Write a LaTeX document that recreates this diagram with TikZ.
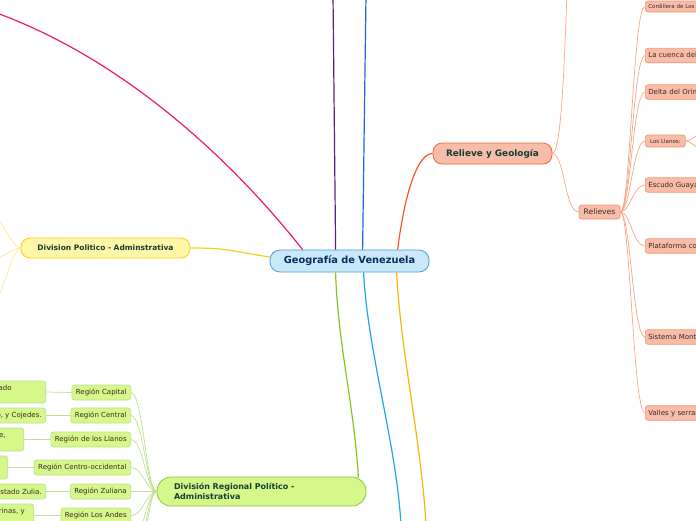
\documentclass[tikz,border=0pt]{standalone}
\usepackage{fontspec}
\setmainfont{DejaVu Sans}
\usepackage{xcolor}
\usetikzlibrary{positioning,calc}

\definecolor{geofill}{HTML}{C9E9FB}
\definecolor{geoline}{HTML}{4A9AD6}
\definecolor{geotext}{HTML}{0B2B5C}
\definecolor{titletext}{HTML}{123F33}
\definecolor{smalltext}{HTML}{3A2A22}
\definecolor{relfill}{HTML}{F9BCA8}
\definecolor{relline}{HTML}{EE6A3C}
\definecolor{relsub}{HTML}{F7A68A}
\definecolor{polfill}{HTML}{FFF6A8}
\definecolor{polline}{HTML}{EFD21E}
\definecolor{polsub}{HTML}{FBE98E}
\definecolor{regfill}{HTML}{D6F78A}
\definecolor{regline}{HTML}{8FC43A}
\definecolor{regsub}{HTML}{BFE08E}
\definecolor{pinkbr}{HTML}{EE1870}
\definecolor{purplebr}{HTML}{5A1E80}
\definecolor{bluebr}{HTML}{1A66D9}
\definecolor{redbr}{HTML}{F25A22}
\definecolor{yellowbr}{HTML}{F0D21A}
\definecolor{greenbr}{HTML}{8CC21E}
\definecolor{skybr}{HTML}{1DA5F0}
\definecolor{orangebr}{HTML}{FFB300}

\begin{document}
\begin{tikzpicture}[x=1pt,y=-1pt,
  topic/.style={rounded corners=9pt,line width=0.8pt,inner sep=0pt,
    font=\bfseries\fontsize{7.5}{9.5}\selectfont,text=titletext},
  relbox/.style={draw=relline!70,fill=relfill,rounded corners=2.5pt,line width=0.7pt,
    inner xsep=3pt,inner ysep=0pt,minimum height=14.5pt,
    font=\fontsize{7}{8.5}\selectfont,text=smalltext},
  regbox/.style={draw=regsub,fill=regfill,rounded corners=2.5pt,line width=0.7pt,
    inner xsep=4pt,inner ysep=1.5pt,minimum height=15pt,align=left,
    font=\fontsize{7}{8.5}\selectfont,text=smalltext},
  branch/.style={line width=1.2pt},
  twig/.style={line width=0.7pt}
]
\useasboundingbox (0,0) rectangle (696,520);
\clip (0,0) rectangle (696,520);

% central topic and main branches
\node[topic,fill=geofill,draw=geoline,text=geotext,rounded corners=10pt,
  font=\bfseries\fontsize{9.8}{11}\selectfont,
  minimum width=159pt,minimum height=22pt] (geo) at (349.5,261) {Geografía de Venezuela};
\node[topic,fill=relfill,draw=relline,font=\bfseries\fontsize{8.9}{10}\selectfont,
  minimum width=119pt,minimum height=21pt] (relieve) at (492.5,153.5) {Relieve y Geología};
\node[topic,fill=polfill,draw=polline,
  minimum width=169pt,minimum height=20pt] (divpol) at (105.5,248) {Division Politico - Adminstrativa};
\node[topic,fill=regfill,draw=regline,rounded corners=14pt,font=\bfseries\fontsize{8}{10}\selectfont,
  minimum width=209pt,minimum height=29pt,text width=175pt,align=left] (divreg) at (261.5,491.5)
  {División Regional Político -\\Administrativa};

\coordinate (pinkEnd) at (-6,12);
\coordinate (purpleEnd) at (333,-5);
\coordinate (blueEnd) at (366,-5);
\coordinate (skyEnd) at (401,526);
\coordinate (orangeEnd) at (426,526);

\draw[branch,pinkbr] ([xshift=33pt]geo.north west) .. controls +(-75,-95) and +(125,45) .. (pinkEnd);
\draw[branch,purplebr] ([xshift=66pt]geo.north west) -- (purpleEnd);
\draw[branch,bluebr] ([xshift=93pt]geo.north west) -- (blueEnd);
\draw[branch,redbr] ([xshift=128pt]geo.north west) .. controls +(8,-62) and +(-14,0) .. (relieve.west);
\draw[branch,yellowbr] ([yshift=4pt]geo.west) .. controls +(-40,-6) and +(40,0) .. (divpol.east);
\draw[branch,greenbr] ([xshift=66pt]geo.south west) .. controls +(2,70) and +(-4,-70) .. ([xshift=-8pt,yshift=-1pt]divreg.north east);
\draw[branch,skybr] ([xshift=94pt]geo.south west) .. controls +(4,80) and +(-4,-80) .. (skyEnd);
\draw[branch,orangebr] ([xshift=127pt]geo.south west) .. controls +(4,80) and +(-4,-80) .. (orangeEnd);

% Relieve y Geologia
\node[relbox,font=\fontsize{7.6}{9}\selectfont,minimum width=41pt,minimum height=14pt] (relieves) at (599.5,212) {Relieves};
\coordinate (relTop) at (567,-5);
\draw[twig,relsub] (relieve.east) .. controls +(10,0) and +(-2,40) .. (relTop);
\draw[twig,relsub] (relieve.east) .. controls +(12,0) and +(-14,0) .. (relieves.west);

\node[relbox,anchor=west,text width=160pt,minimum height=11pt,font=\fontsize{5.5}{6.5}\selectfont] (cordillera) at (645,6.5) {Cordillera de Los Andes};
\node[relbox,anchor=west,text width=160pt] (cuenca) at (645,55.5) {La cuenca del Lago de Maracaibo};
\node[relbox,anchor=west,text width=160pt] (delta) at (645,92) {Delta del Orinoco};
\node[relbox,anchor=west,minimum height=12pt,minimum width=40pt,font=\fontsize{5.5}{6.5}\selectfont] (llanos) at (645,141) {Los Llanos:};
\node[relbox,anchor=west,text width=160pt] (escudo) at (645,185) {Escudo Guayanés};
\node[relbox,anchor=west,text width=160pt] (plataforma) at (645,246) {Plataforma continental};
\node[relbox,anchor=west,text width=160pt] (sistema) at (645,337) {Sistema Montañoso del Caribe};
\node[relbox,anchor=west,text width=160pt] (valles) at (645,413) {Valles y serranías};

\foreach \n in {cordillera,cuenca,delta,llanos,escudo,plataforma,sistema,valles}
  \draw[twig,relsub] (relieves.east) .. controls +(10,0) and +(-12,0) .. (\n.west);

\coordinate (llanosA) at (712,128);
\coordinate (llanosB) at (712,156);
\draw[twig,relsub] (llanos.east) .. controls +(7,0) and +(-8,0) .. (llanosA);
\draw[twig,relsub] (llanos.east) .. controls +(7,0) and +(-8,0) .. (llanosB);

% Division Politico - Adminstrativa
\coordinate (pol1) at (-14,206);
\coordinate (pol2) at (-14,263);
\coordinate (pol3) at (-8,304);
\foreach \c in {pol1,pol2,pol3}
  \draw[twig,polsub] (divpol.west) .. controls +(-9,0) and +(9,0) .. (\c);

% Division Regional
\node[regbox,anchor=east] (capital) at (131,392.5) {Región Capital};
\node[regbox,anchor=east] (central) at (131,415.5) {Región Central};
\node[regbox,anchor=east] (llanosreg) at (131,439.5) {Región de los Llanos};
\node[regbox,anchor=east] (centroocc) at (131,467.5) {Región Centro-occidental};
\node[regbox,anchor=east] (zuliana) at (131,491.5) {Región Zuliana};
\node[regbox,anchor=east] (andes) at (131,515.5) {Región Los Andes};
\coordinate (insular) at (131,541);
\coordinate (nororiental) at (131,566);
\coordinate (guayana) at (131,591);

\foreach \n in {capital,central,llanosreg,centroocc,zuliana,andes}
  \draw[twig,regsub] (divreg.west) .. controls +(-10,0) and +(12,0) .. (\n.east);
\foreach \c in {insular,nororiental,guayana}
  \draw[twig,regsub] (divreg.west) .. controls +(-10,0) and +(12,0) .. (\c);

\node[regbox,anchor=east,minimum height=22pt] (capitalTxt) at (46,392) {Distrito Capital y estado\hspace*{30pt}\\Miranda.};
\node[regbox,anchor=east] (centralTxt) at (46,415.5) {Aragua, Carabobo, y Cojedes.};
\node[regbox,anchor=east,minimum height=23pt] (llanosTxt) at (24,439.5) {Guárico, Apure,\hspace*{14pt}\\Anzoátegui.};
\node[regbox,anchor=east,minimum height=23pt] (centroTxt) at (8,467.5) {Falcón, Lara, Portuguesa y\hspace*{8pt}\\Yaracuy.};
\node[regbox,anchor=east] (zuliaTxt) at (46,491.5) {Estado Zulia.};
\node[regbox,anchor=east,minimum height=23pt] (andesTxt) at (34,515.5) {Mérida, Táchira, Trujillo, Barinas, y\hspace*{5pt}\\Apure.};

\draw[twig,regsub] (capital.west) -- (capitalTxt.east);
\draw[twig,regsub] (central.west) -- (centralTxt.east);
\draw[twig,regsub] (llanosreg.west) -- (llanosTxt.east);
\draw[twig,regsub] (centroocc.west) -- (centroTxt.east);
\draw[twig,regsub] (zuliana.west) -- (zuliaTxt.east);
\draw[twig,regsub] (andes.west) -- (andesTxt.east);
\end{tikzpicture}
\end{document}
